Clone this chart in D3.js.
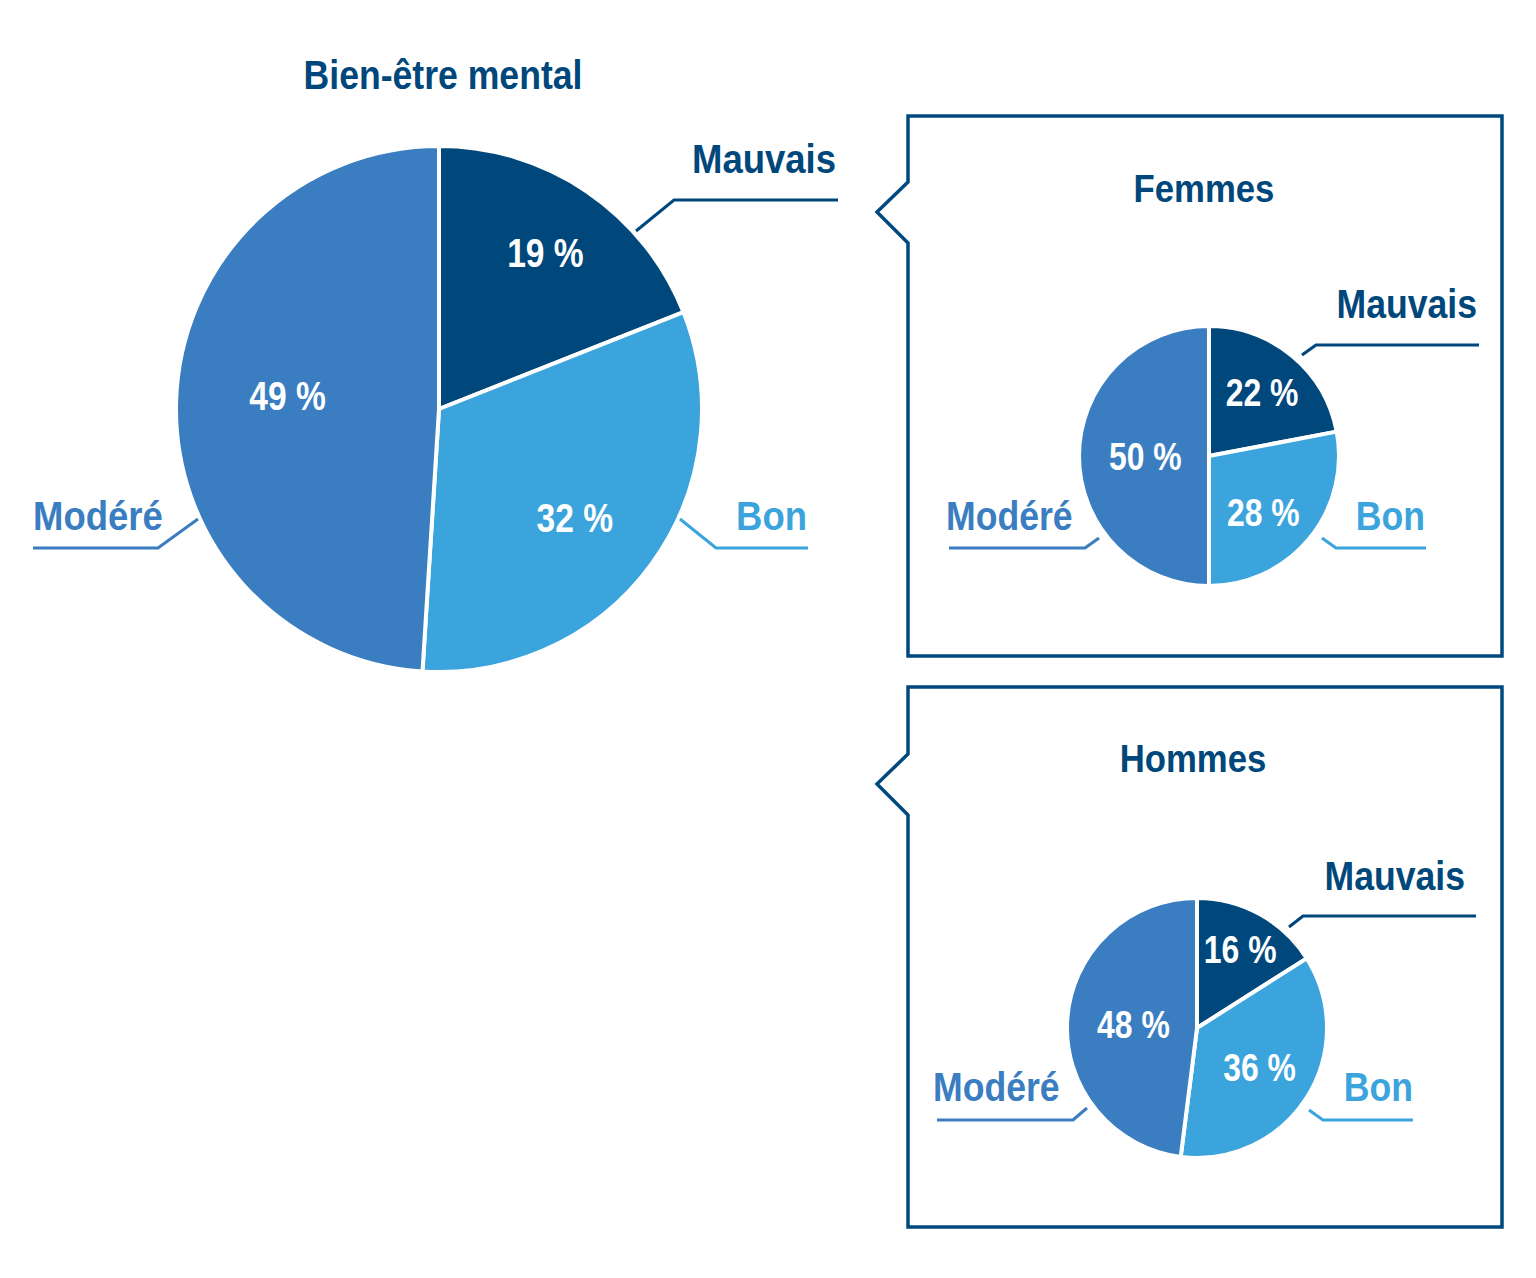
<!DOCTYPE html>
<html>
<head>
<meta charset="utf-8">
<script src="https://cdn.jsdelivr.net/npm/d3@7"></script>
<style>
  html, body { margin: 0; padding: 0; background: #fff; }
  svg text { font-family: "Liberation Sans", Arial, sans-serif; font-weight: bold; }
</style>
</head>
<body>
<svg id="chart" width="1536" height="1278"></svg>
<script>
// ---- data ----
const categories = ["Mauvais", "Bon", "Modéré"];
const totalValues = [19, 32, 49];
const femmesValues = [22, 28, 50];
const hommesValues = [16, 36, 48];
const pieTitles = ["Bien-être mental", "Femmes", "Hommes"];

// ---- styles ----
const colors = d3.scaleOrdinal().domain(categories).range(["#00477b", "#3ba4dc", "#3a7dc1"]);
const darkText = "#00477b";
const condense = 0.89;     // horizontal squeeze to mimic a condensed face
const condensePct = 0.84;

const svg = d3.select("#chart");

// ---- layout (positions only) ----
const layouts = [
  {
    values: totalValues, title: pieTitles[0], cx: 439, cy: 409, r: 263,
    titleX: 443, titleY: 89, titleSize: 40, labelSize: 41, pctSize: 40,
    pctRadius: [0.72, 0.662, 0.578], pctAngleShift: [0, 0.047, 0.054],
    leaders: [
      { start: [197, -178], elbow: [235, -209], endX: 399, textX: 397, textDy: -27, anchor: "end" },
      { start: [241, 110], elbow: [277, 139], endX: 369, textX: 368, textDy: -18, anchor: "end" },
      { start: [-241, 110], elbow: [-281, 139], endX: -406, textX: -406, textDy: -18, anchor: "start" }
    ]
  },
  {
    values: femmesValues, title: pieTitles[1], cx: 1209, cy: 456, r: 130,
    titleX: 1204, titleY: 202, titleSize: 39, labelSize: 40, pctSize: 38,
    pctRadius: [0.64, 0.6, 0.49], pctAngleShift: [0, 0.11, 0],
    leaders: [
      { start: [93, -101], elbow: [107, -111], endX: 270, textX: 268, textDy: -27, anchor: "end" },
      { start: [113, 82], elbow: [127, 92], endX: 217, textX: 216, textDy: -18, anchor: "end" },
      { start: [-110, 82], elbow: [-124, 92], endX: -260, textX: -263, textDy: -18, anchor: "start" }
    ]
  },
  {
    values: hommesValues, title: pieTitles[2], cx: 1197, cy: 1028, r: 130,
    titleX: 1193, titleY: 772, titleSize: 39, labelSize: 40, pctSize: 38,
    pctRadius: [0.69, 0.57, 0.49], pctAngleShift: [0, 0, 0],
    leaders: [
      { start: [92, -101], elbow: [106, -112], endX: 279, textX: 268, textDy: -26, anchor: "end" },
      { start: [112, 82], elbow: [126, 92], endX: 216, textX: 216, textDy: -19, anchor: "end" },
      { start: [-110, 80], elbow: [-124, 92], endX: -260, textX: -264, textDy: -19, anchor: "start" }
    ]
  }
];

// ---- boxes with notch ----
function drawBox(x0, y0, x1, y1, notchY) {
  const p = d3.path();
  p.moveTo(x0, notchY - 30);
  p.lineTo(x0, y0);
  p.lineTo(x1, y0);
  p.lineTo(x1, y1);
  p.lineTo(x0, y1);
  p.lineTo(x0, notchY + 31);
  p.lineTo(x0 - 31, notchY);
  p.closePath();
  svg.append("path").attr("d", p.toString())
    .attr("fill", "none").attr("stroke", "#00497f").attr("stroke-width", 3.5)
    .attr("stroke-linejoin", "miter");
}
drawBox(908, 116, 1502, 656, 212);
drawBox(908, 687, 1502, 1227, 784);

const pie = d3.pie().sort(null).value(d => d);

function placeText(sel, x, y, sx) {
  return sel.attr("transform", `translate(${x},${y}) scale(${sx},1)`);
}

layouts.forEach(L => {
  const g = svg.append("g").attr("transform", `translate(${L.cx},${L.cy})`);
  const arcs = pie(L.values);
  const arc = d3.arc().innerRadius(0).outerRadius(L.r);

  g.selectAll("path.slice").data(arcs).enter().append("path")
    .attr("class", "slice")
    .attr("d", arc)
    .attr("fill", (d, i) => colors(categories[i]))
    .attr("stroke", "#fff").attr("stroke-width", 4).attr("stroke-linejoin", "round");

  // percentage labels
  g.selectAll("text.pct").data(arcs).enter().append("text")
    .attr("class", "pct")
    .attr("transform", (d, i) => {
      const a = (d.startAngle + d.endAngle) / 2 + L.pctAngleShift[i];
      const rr = L.r * L.pctRadius[i];
      return `translate(${rr * Math.sin(a)},${-rr * Math.cos(a)}) scale(${condensePct},1)`;
    })
    .attr("text-anchor", "middle").attr("dy", "0.36em")
    .attr("fill", "#fff").attr("font-size", L.pctSize)
    .text(d => d.value + " %");

  // leader lines & category labels
  L.leaders.forEach((ld, i) => {
    const c = colors(categories[i]);
    const line = d3.line();
    g.append("path")
      .attr("d", line([ld.start, ld.elbow, [ld.endX, ld.elbow[1]]]))
      .attr("fill", "none").attr("stroke", c).attr("stroke-width", 3);
    placeText(g.append("text"), ld.textX, ld.elbow[1] + ld.textDy, condense)
      .attr("text-anchor", ld.anchor)
      .attr("fill", c).attr("font-size", L.labelSize)
      .text(categories[i]);
  });

  placeText(svg.append("text"), L.titleX, L.titleY, condense)
    .attr("text-anchor", "middle")
    .attr("fill", darkText).attr("font-size", L.titleSize)
    .text(L.title);
});
</script>
</body>
</html>
